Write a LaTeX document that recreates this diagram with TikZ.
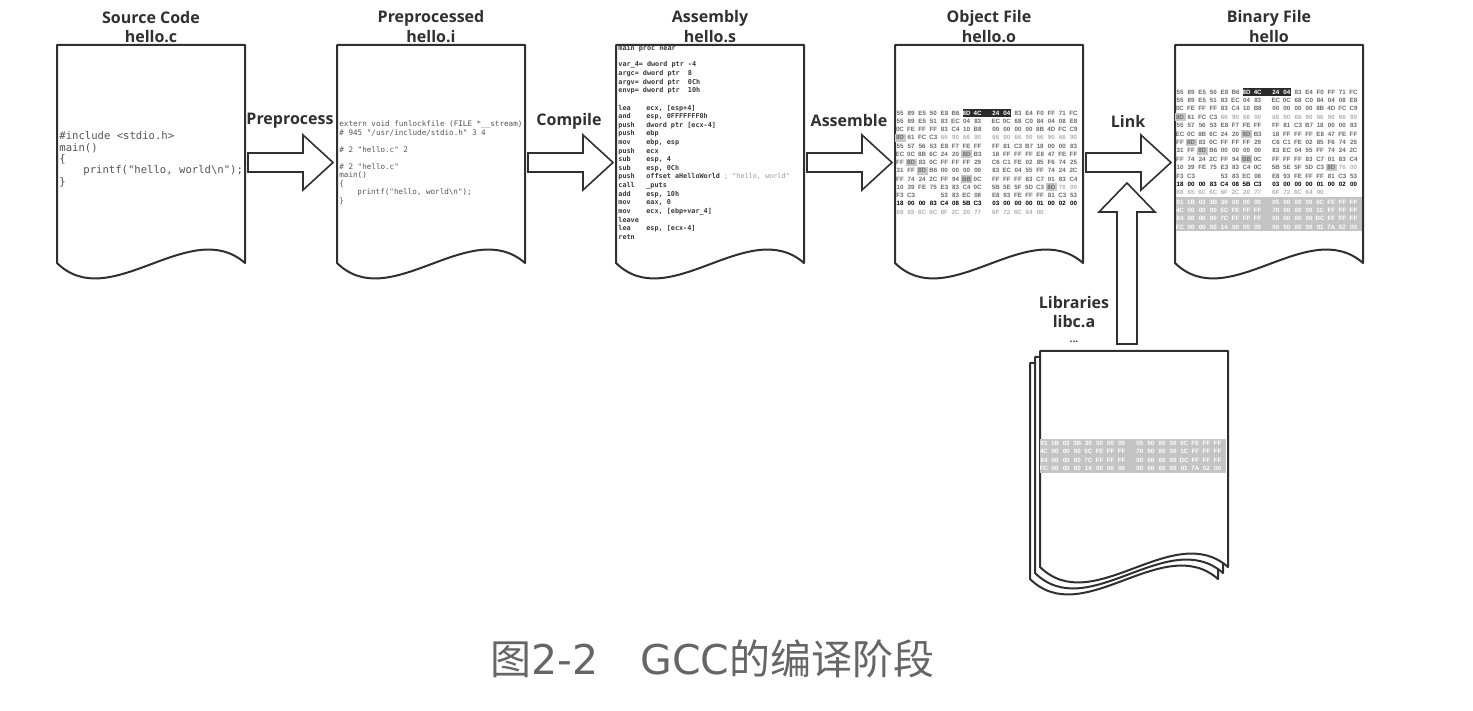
\documentclass[tikz,border=0pt]{standalone}
\usepackage{fontspec}
\setmainfont{Open Sans}
\newfontfamily\osans{Open Sans}
\newfontfamily\mono{DejaVu Sans Mono}
\newfontfamily\hexf{Liberation Sans}
\newfontfamily\cjk{Noto Sans CJK SC}
\newfontfamily\dv{DejaVu Sans}
\definecolor{ink}{HTML}{303030}
\definecolor{codec}{HTML}{555555}
\definecolor{asmc}{HTML}{3A3A3A}
\definecolor{lightc}{HTML}{9A9A9A}
\definecolor{hexc}{HTML}{6A6A6A}
\definecolor{hexlight}{HTML}{B0B0B0}
\definecolor{hexdark}{HTML}{2A2A2A}
\definecolor{hexbox}{HTML}{C8C8C8}
\definecolor{bandc}{HTML}{C4C4C4}
\definecolor{capc}{HTML}{666666}
\tikzset{
  docline/.style={draw=ink, line width=1pt, fill=white, line join=round},
  blockarrow/.style={draw=ink, line width=0.8pt, fill=white, line join=miter},
  titletext/.style={font=\osans\bfseries\fontsize{8}{9}\selectfont, text=ink, inner sep=0},
  hexb/.style={font=\hexf\bfseries\fontsize{3.1}{4}\selectfont, text=hexc, inner sep=0},
  hg/.style={text=hexlight},
  hk/.style={text=black},
  hw/.style={text=white},
  srccode/.style={font=\mono\fontsize{5.3}{6}\selectfont, text=codec, inner sep=0, anchor=west},
  ppcode/.style={font=\mono\fontsize{3.8}{4.5}\selectfont, text=codec, inner sep=0, anchor=west},
  asmcode/.style={font=\mono\bfseries\fontsize{3.4}{4}\selectfont, text=asmc, inner sep=0, anchor=west},
}
% document sheet: left x, top y, side-bottom y
\newcommand\docpath[3]{%
  \path[docline] (#1,#2) -- (#1+188,#2) -- (#1+188,#3)
     .. controls (#1+133,#3-48) and (#1+53,#3+52) .. (#1,#3) -- cycle;}
% horizontal block arrow starting at x
\newcommand\harrow[1]{%
  \path[blockarrow] (#1,153) -- (#1+55,153) -- (#1+55,135) -- (#1+85,162.5)
     -- (#1+55,190) -- (#1+55,172) -- (#1,172) -- cycle;}
% one row of hex bytes: left, y, first index, style, bytes
\newcommand\hexrow[5]{%
  \foreach \hb [count=\hi from #3] in {#5}{%
    \pgfmathsetmacro\hx{#1+5+\hi*11.1+(\hi>7)*7}%
    \node[hexb,#4] at (\hx,#2) {\hb};}}
% the code part of object / binary files: left, y0, dy
\newcommand\hexbody[3]{%
  \fill[hexdark] (#1+68,#2-4.3) rectangle (#1+116,#2+4.3);
  \foreach \hr/\hc in {3/0,5/6,6/1,7/2,8/6,9/13}{%
    \pgfmathsetmacro\hx{#1+5+\hc*11.1+(\hc>7)*7}%
    \pgfmathsetmacro\hy{#2+\hr*#3}%
    \fill[hexbox] (\hx-5.5,\hy-3.8) rectangle (\hx+5.5,\hy+3.8);}
  \hexrow{#1}{#2}{0}{}{55,89,E5,50,E8,B6}
  \hexrow{#1}{#2}{6}{hw}{8D,4C,24,04}
  \hexrow{#1}{#2}{10}{}{83,E4,F0,FF,71,FC}
  \hexrow{#1}{#2+1*#3}{0}{}{55,89,E5,51,83,EC,04,83,EC,0C,68,C0,84,04,08,E8}
  \hexrow{#1}{#2+2*#3}{0}{}{0C,FE,FF,FF,83,C4,10,B8,00,00,00,00,8B,4D,FC,C9}
  \hexrow{#1}{#2+3*#3}{0}{}{8D,61,FC,C3}
  \hexrow{#1}{#2+3*#3}{4}{hg}{66,90,66,90,66,90,66,90,66,90,66,90}
  \hexrow{#1}{#2+4*#3}{0}{}{55,57,56,53,E8,F7,FE,FF,FF,81,C3,B7,18,00,00,83}
  \hexrow{#1}{#2+5*#3}{0}{}{EC,0C,8B,6C,24,20,8D,B3,18,FF,FF,FF,E8,47,FE,FF}
  \hexrow{#1}{#2+6*#3}{0}{}{FF,8D,83,0C,FF,FF,FF,29,C6,C1,FE,02,85,F6,74,25}
  \hexrow{#1}{#2+7*#3}{0}{}{31,FF,8D,B6,00,00,00,00,83,EC,04,55,FF,74,24,2C}
  \hexrow{#1}{#2+8*#3}{0}{}{FF,74,24,2C,FF,94,BB,0C,FF,FF,FF,83,C7,01,83,C4}
  \hexrow{#1}{#2+9*#3}{0}{}{10,39,FE,75,E3,83,C4,0C,5B,5E,5F,5D,C3,8D}
  \hexrow{#1}{#2+9*#3}{14}{hg}{76,00}
  \hexrow{#1}{#2+10*#3}{0}{}{F3,C3}
  \hexrow{#1}{#2+10*#3}{4}{}{53,83,EC,08,E8,93,FE,FF,FF,81,C3,53}
  \hexrow{#1}{#2+11*#3}{0}{hk}{18,00,00,83,C4,08,5B,C3,03,00,00,00,01,00,02,00}
  \hexrow{#1}{#2+12*#3}{0}{hg}{68,65,6C,6C,6F,2C,20,77,6F,72,6C,64,00}}
% grey data band: left, top, row y0, dy
\newcommand\hexband[4]{%
  \fill[bandc] (#1+1,#2) rectangle (#1+187,#2+34);
  \hexrow{#1}{#3}{0}{hw}{01,1B,03,3B,30,00,00,00,05,00,00,00,0C,FE,FF,FF}
  \hexrow{#1}{#3+#4}{0}{hw}{4C,00,00,00,5C,FE,FF,FF,70,00,00,00,1C,FF,FF,FF}
  \hexrow{#1}{#3+2*#4}{0}{hw}{84,00,00,00,7C,FF,FF,FF,00,00,00,00,DC,FF,FF,FF}
  \hexrow{#1}{#3+3*#4}{0}{hw}{FC,00,00,00,14,00,00,00,00,00,00,00,01,7A,52,00}}
\newcommand\mn[1]{\makebox[14pt][l]{#1}}
\begin{document}
\begin{tikzpicture}[x=0.5pt,y=-0.5pt]
\useasboundingbox (0,0) rectangle (1473,711);

% ---------- documents ----------
\docpath{57}{45}{263}
\docpath{337}{45}{263}
\docpath{616}{45}{263}
\docpath{895}{45}{263}
\docpath{1175}{45}{263}
\coordinate (srcdoc) at (151,150);
\coordinate (ppdoc) at (431,150);
\coordinate (asmdoc) at (710,150);
\coordinate (objdoc) at (989,150);
\coordinate (bindoc) at (1269,150);

% ---------- titles ----------
\node[titletext] (t1a) at (151,18) {Source Code};
\node[titletext] (t1b) at (151,37) {hello.c};
\node[titletext] (t2a) at (431,18) {Preprocessed};
\node[titletext] (t2b) at (431,37) {hello.i};
\node[titletext] (t3a) at (710,18) {Assembly};
\node[titletext] (t3b) at (710,37) {hello.s};
\node[titletext] (t4a) at (989,18) {Object File};
\node[titletext] (t4b) at (989,37) {hello.o};
\node[titletext] (t5a) at (1269,18) {Binary File};
\node[titletext] (t5b) at (1269,37) {hello};

% ---------- arrows ----------
\harrow{248}
\harrow{528}
\harrow{807}
\harrow{1086}
\node[titletext] (lpre) at (290,121) {Preprocess};
\node[titletext] (lcomp) at (569,121) {Compile};
\node[titletext] (lasm) at (849,121) {Assemble};
\node[titletext] (llink) at (1128,121) {Link};
\path[blockarrow] (1117,344) -- (1117,212) -- (1099,212) -- (1127,183)
   -- (1155,212) -- (1137,212) -- (1137,344) -- cycle;

% ---------- source code ----------
\node[srccode] (s1) at (59,136) {\#include <stdio.h>};
\node[srccode] (s2) at (59,147.7) {main()};
\node[srccode] (s3) at (59,159.3) {\{};
\node[srccode] (s4) at (83,171) {printf("hello, world\textbackslash n");};
\node[srccode] (s5) at (59,182.7) {\}};

% ---------- preprocessed ----------
\node[ppcode] (p1) at (339,124) {extern void funlockfile (FILE *\_\_stream)};
\node[ppcode] (p2) at (339,132.6) {\# 945 "/usr/include/stdio.h" 3 4};
\node[ppcode] (p3) at (339,149.8) {\# 2 "hello.c" 2};
\node[ppcode] (p4) at (339,167) {\# 2 "hello.c"};
\node[ppcode] (p5) at (339,175.6) {main()};
\node[ppcode] (p6) at (339,184.2) {\{};
\node[ppcode] (p7) at (357,192.8) {printf("hello, world\textbackslash n");};
\node[ppcode] (p8) at (339,201.4) {\}};

% ---------- assembly ----------
\node[asmcode] (a0) at (618,48) {main proc near};
\node[asmcode] (a2) at (618,65.2) {var\_4= dword ptr -4};
\node[asmcode] (a3) at (618,73.8) {argc= dword ptr~~8};
\node[asmcode] (a4) at (618,82.4) {argv= dword ptr~~0Ch};
\node[asmcode] (a5) at (618,91) {envp= dword ptr~~10h};
\node[asmcode] (a7) at (618,108.2) {\mn{lea}ecx, [esp+4]};
\node[asmcode] (a8) at (618,116.8) {\mn{and}esp, 0FFFFFFF0h};
\node[asmcode] (a9) at (618,125.4) {\mn{push}dword ptr [ecx-4]};
\node[asmcode] (a10) at (618,134) {\mn{push}ebp};
\node[asmcode] (a11) at (618,142.6) {\mn{mov}ebp, esp};
\node[asmcode] (a12) at (618,151.2) {\mn{push}ecx};
\node[asmcode] (a13) at (618,159.8) {\mn{sub}esp, 4};
\node[asmcode] (a14) at (618,168.4) {\mn{sub}esp, 0Ch};
\node[asmcode] (a15) at (618,177) {\mn{push}offset aHelloWorld {\mdseries\color{lightc}; "hello, world"}};
\node[asmcode] (a16) at (618,185.6) {\mn{call}\_puts};
\node[asmcode] (a17) at (618,194.2) {\mn{add}esp, 10h};
\node[asmcode] (a18) at (618,202.8) {\mn{mov}eax, 0};
\node[asmcode] (a19) at (618,211.4) {\mn{mov}ecx, [ebp+var\_4]};
\node[asmcode] (a20) at (618,220) {leave};
\node[asmcode] (a21) at (618,228.6) {\mn{lea}esp, [ecx-4]};
\node[asmcode] (a22) at (618,237.2) {retn};

% ---------- object file / binary ----------
\hexbody{895}{113}{8.25}
\hexbody{1175}{92}{8.4}
\hexband{1175}{197}{202}{8.3}

% ---------- libraries ----------
\node[titletext] (lib1) at (1074,303) {Libraries};
\node[titletext] (lib2) at (1074,322) {libc.a};
\node[titletext, font=\osans\bfseries\fontsize{5}{6}\selectfont] (lib3) at (1074,342) {...};
\docpath{1030}{363}{579}
\docpath{1035}{357}{573}
\docpath{1040}{351}{567}
\coordinate (libdoc) at (1134,450);
\hexband{1039}{439}{443.5}{8.3}

% ---------- caption ----------
\node[anchor=base west, inner sep=0, text=capc] (cap) at (490,674)
  {\fontsize{20.5}{24}\selectfont{\cjk 图}{\dv 2-2}\hspace{21pt}{\dv GCC}{\cjk 的编译阶段}};
\end{tikzpicture}
\end{document}
